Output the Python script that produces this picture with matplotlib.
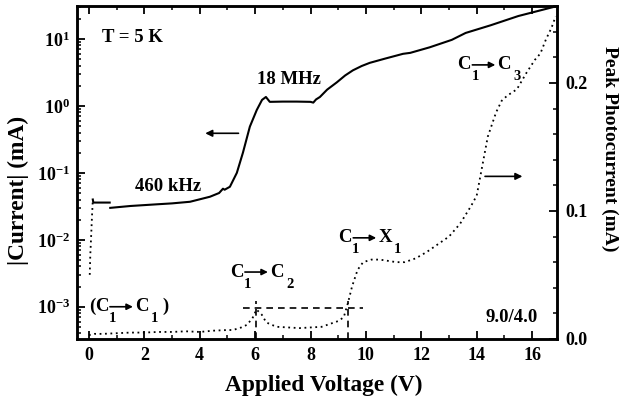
import matplotlib
matplotlib.use("Agg")
import matplotlib.pyplot as plt
from matplotlib.patches import FancyArrowPatch
from matplotlib.ticker import FixedLocator, LogLocator, MultipleLocator, NullFormatter
from matplotlib.transforms import offset_copy

plt.rcParams['font.family'] = ['Liberation Serif', 'DejaVu Serif']
plt.rcParams['font.weight'] = 'bold'
plt.rcParams['mathtext.fontset'] = 'custom'
plt.rcParams['mathtext.rm'] = 'Liberation Serif:bold'
plt.rcParams['mathtext.bf'] = 'Liberation Serif:bold'
plt.rcParams['mathtext.it'] = 'Liberation Serif:bold'

# |Current| vs applied voltage (left, log axis)
rise_v = [0.03, 0.05, 0.07, 0.09, 0.11, 0.13, 0.14]
rise_i = [0.003, 0.006, 0.009, 0.014, 0.022, 0.032, 0.04]

low_v = [0.14, 0.16, 0.75]
low_i = [0.040, 0.036, 0.036]

cur_v = [0.77, 1.5, 2.5, 3.0, 3.65, 4.37, 4.7, 4.84, 4.9, 5.09, 5.34, 5.56, 5.81,
         6.06, 6.25, 6.39, 6.53, 7.0, 7.5, 8.0, 8.1, 8.2, 8.34, 8.6, 8.95, 9.25,
         9.53, 9.85, 10.14, 10.7, 11.34, 11.6, 12.3, 13.1, 13.6, 14.5, 15.5, 16.9]
cur_i = [0.030, 0.032, 0.034, 0.035, 0.037, 0.044, 0.050, 0.058, 0.056, 0.062,
         0.10, 0.20, 0.49, 0.87, 1.23, 1.36, 1.15, 1.16, 1.16, 1.15, 1.12, 1.25,
         1.36, 1.75, 2.25, 2.85, 3.4, 3.95, 4.4, 5.1, 6.0, 6.2, 7.5, 9.7, 12.3,
         16.0, 22.0, 31.0]

# Peak photocurrent (right, linear axis)
pc_v = [0.0, 0.2, 0.5, 1.0, 1.5, 2.0, 2.5, 3.0, 3.5, 4.0, 4.5, 5.0, 5.2, 5.5, 5.7,
        5.9, 6.05, 6.24, 6.4, 6.6, 6.8, 7.2, 7.6, 8.0, 8.4, 8.8, 9.0, 9.2, 9.35,
        9.5, 9.7, 9.9, 10.2, 10.5, 10.8, 11.1, 11.4, 11.8, 12.2, 12.6, 13.0, 13.4,
        13.8, 14.0, 14.2, 14.4, 14.7, 14.9, 15.1, 15.45, 15.8, 16.1, 16.3, 16.5,
        16.7, 16.85]
pc_i = [0.003, 0.004, 0.004, 0.0045, 0.005, 0.005, 0.0055, 0.0055, 0.006, 0.0055,
        0.0065, 0.007, 0.007, 0.009, 0.011, 0.016, 0.023, 0.019, 0.013, 0.011,
        0.0095, 0.009, 0.0085, 0.009, 0.0095, 0.0125, 0.014, 0.017, 0.028, 0.041,
        0.054, 0.060, 0.062, 0.062, 0.061, 0.060, 0.060, 0.063, 0.068, 0.074,
        0.080, 0.090, 0.104, 0.112, 0.135, 0.158, 0.177, 0.186, 0.190, 0.195,
        0.208, 0.218, 0.223, 0.234, 0.243, 0.252]

# Resonance guide lines (photocurrent units)
guide_level = 0.024
guide_span = [5.55, 9.9]
guide_peaks = [6.05, 9.35]

x_ticks = [0, 2, 4, 6, 8, 10, 12, 14, 16]
left_ticks = [1e-3, 1e-2, 1e-1, 1e0, 1e1]
left_labels = [r'$\mathbf{10^{-3}}$', r'$\mathbf{10^{-2}}$', r'$\mathbf{10^{-1}}$',
               r'$\mathbf{10^{0}}$', r'$\mathbf{10^{1}}$']
right_ticks = [0.0, 0.1, 0.2]
right_labels = ['0.0', '0.1', '0.2']

fig = plt.figure(figsize=(6.21, 4.05), dpi=100)
ax = fig.add_axes([0.124, 0.163, 0.773, 0.822])
ax2 = ax.twinx()

for a in (ax, ax2):
    for s in a.spines.values():
        s.set_linewidth(1.8)

ax.plot(rise_v, rise_i, color='black', lw=1.3, ls=(0, (1, 2)))
ax.plot(low_v, low_i, color='black', lw=1.5)
ax.plot(cur_v, cur_i, color='black', lw=1.5)
ax.set_yscale('log')
ax.set_xlim(-0.43, 16.9)
ax.set_ylim(3.3e-4, 31)

ax2.plot(pc_v, pc_i, color='black', lw=1.3, ls=(0, (1, 2)))
ax2.plot(guide_span, [guide_level, guide_level], color='black', lw=1.2, ls=(0, (4, 3)))
for p in guide_peaks:
    ax2.plot([p, p], [0, guide_level + 0.006], color='black', lw=1.2, ls=(0, (4, 3)))
ax2.set_ylim(0, 0.26)

# ticks
tick_fs = 13
ax.xaxis.set_major_locator(FixedLocator(x_ticks))
ax.xaxis.set_minor_locator(MultipleLocator(1))
ax.yaxis.set_major_locator(FixedLocator(left_ticks))
ax.set_yticklabels(left_labels)
ax.yaxis.set_minor_locator(LogLocator(base=10, subs=range(2, 10), numticks=20))
ax.yaxis.set_minor_formatter(NullFormatter())
ax.tick_params(axis='x', which='both', direction='in', top=True, labelsize=tick_fs, pad=6)
ax.tick_params(axis='y', which='both', direction='in', labelsize=tick_fs, pad=5)
ax.tick_params(which='major', length=6, width=1.3)
ax.tick_params(which='minor', length=3, width=1.1)

ax2.yaxis.set_major_locator(FixedLocator(right_ticks))
ax2.yaxis.set_minor_locator(MultipleLocator(0.02))
ax2.set_yticklabels(right_labels)
ax2.tick_params(axis='y', which='both', direction='in', labelsize=tick_fs, pad=6)
ax2.tick_params(which='major', length=6, width=1.3)
ax2.tick_params(which='minor', length=3, width=1.1)

for lab in ax.get_xticklabels() + ax2.get_yticklabels():
    lab.set_fontweight('bold')

ax.set_xlabel('Applied Voltage (V)', fontsize=16.8, fontweight='bold')
ax.xaxis.set_label_coords(0.515, -0.108)
ax.set_ylabel('|Current| (mA)', fontsize=16.8, fontweight='bold')
ax.yaxis.set_label_coords(-0.10, 0.445)
ax2.set_ylabel('Peak Photocurrent (mA)', fontsize=14, fontweight='bold', rotation=270,
               va='center')
ax2.yaxis.set_label_coords(1.11, 0.57)

# plain annotations
tk = dict(fontsize=13.5, fontweight='bold', color='black')
ax.text(0.47, 10.7, 'T = 5 K', ha='left', va='center', **tk)
ax.text(6.06, 2.45, '18 MHz', ha='left', va='center', **tk)
ax.text(1.66, 0.062, '460 kHz', ha='left', va='center', **tk)
ax.text(14.3, 0.0007, '9.0/4.0', ha='left', va='center', **tk)

PX = 0.72  # points per pixel at 100 dpi


def transition(x, y, a, sa, b, sb, parens=False):
    """Draw a label like C1 -> C2 with a filled arrow between the two states."""
    x0 = 6 if parens else 0
    pieces = []
    if parens:
        pieces.append(('(', 0, 0, 13.5))
    pieces += [(a, x0, 0, 13.5), (sa, x0 + 14, -12, 10.5),
               (b, x0 + 40, 0, 13.5), (sb, x0 + 56, -12, 10.5)]
    if parens:
        pieces.append((')', x0 + 68, 0, 13.5))
    for s, dx, dy, fs in pieces:
        ax.annotate(s, xy=(x, y), xytext=(dx * PX, dy * PX), textcoords='offset points',
                    ha='left', va='center', fontsize=fs, fontweight='bold')
    tr_start = offset_copy(ax.transData, fig=fig, x=(x0 + 15) * PX, y=0, units='points')
    tr_end = offset_copy(ax.transData, fig=fig, x=(x0 + 38) * PX, y=0, units='points')
    arrow = FancyArrowPatch(tr_start.transform((x, y)), tr_end.transform((x, y)),
                            transform=None, arrowstyle='-|>', mutation_scale=9,
                            lw=1.2, color='black', shrinkA=0, shrinkB=0)
    fig.patches.append(arrow)


transition(13.3, 4.1, 'C', '1', 'C', '3')
transition(9.0, 0.0107, 'C', '1', 'X', '1')
transition(5.09, 0.0033, 'C', '1', 'C', '2')
transition(0.0, 0.001, 'C', '1', 'C', '1', parens=True)

# arrows pointing each curve to its axis
ax.annotate('', xy=(4.2, 0.39), xytext=(5.4, 0.39),
            arrowprops=dict(arrowstyle='-|>', color='black', lw=1.2,
                            mutation_scale=10, shrinkA=0, shrinkB=0))
ax2.annotate('', xy=(15.65, 0.127), xytext=(14.3, 0.127),
             arrowprops=dict(arrowstyle='-|>', color='black', lw=1.2,
                             mutation_scale=10, shrinkA=0, shrinkB=0))

fig.savefig('out.png', dpi=100)
